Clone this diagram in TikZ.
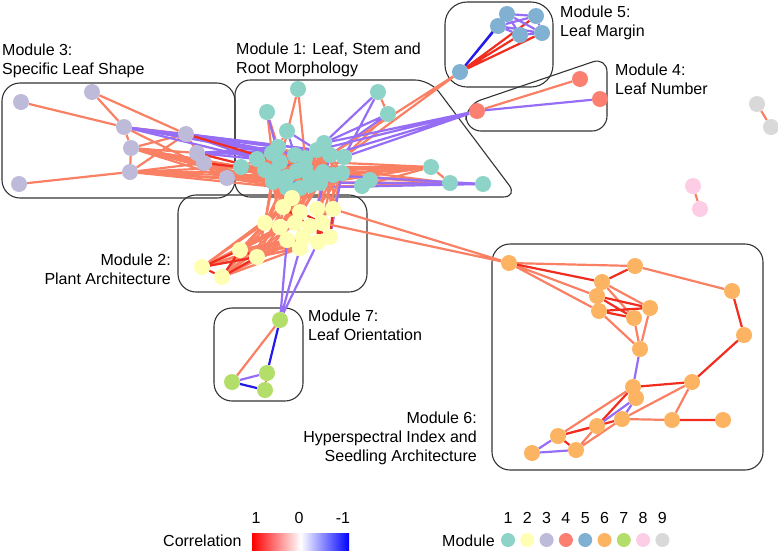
\documentclass[tikz,border=0pt]{standalone}
\usepackage{fontspec}
\setmainfont{Liberation Sans}
\usetikzlibrary{backgrounds}
\definecolor{modA}{HTML}{8DD3C7}
\definecolor{modB}{HTML}{FFFFB3}
\definecolor{modC}{HTML}{BEBADA}
\definecolor{modD}{HTML}{FB8072}
\definecolor{modE}{HTML}{80B1D3}
\definecolor{modF}{HTML}{FDB462}
\definecolor{modG}{HTML}{B3DE69}
\definecolor{modH}{HTML}{FCCDE5}
\definecolor{modI}{HTML}{D9D9D9}
\definecolor{poscol}{RGB}{250,128,100}
\definecolor{sposcol}{RGB}{240,45,30}
\definecolor{negcol}{RGB}{150,110,245}
\definecolor{snegcol}{RGB}{35,25,235}
\tikzset{
  mnode/.style={circle,minimum size=16pt,inner sep=0pt},
  poscor/.style={draw=poscol,line width=2.2pt},
  sposcor/.style={draw=sposcol,line width=2.2pt},
  negcor/.style={draw=negcol,line width=2.2pt},
  snegcor/.style={draw=snegcol,line width=2.2pt},
  modbox/.style={draw=black!80,line width=1.1pt,rounded corners=18pt},
  lbl/.style={inner sep=0pt,font=\fontsize{16}{19}\selectfont},
  every picture/.style={line cap=round,line join=round}
}

\begin{document}
\begin{tikzpicture}[x=1pt,y=-1pt]
    \useasboundingbox (0,0) rectangle (778,550);

    % module 1
    \foreach \n/\x/\y in {1/298/89,2/378/92,3/267/112,4/388/114,5/287/131,6/324/143,7/344/157,
        8/241/167,9/431/167,10/370/180,11/362/186,12/450/183,13/483/184,14/257/159,15/272/153,
        16/278/147,17/280/162,18/295/155,19/305/158,20/317/150,21/330/155,22/273/172,23/273/182,
        24/287/177,25/297/171,26/305/167,27/310/177,28/323/172,29/333/175,30/342/173,31/287/188,
        32/300/188,33/310/185,34/320/183,35/265/170}
      \node[mnode,fill=modA] (t\n) at (\x,\y) {};
    % module 2
    \foreach \n/\x/\y in {1/283/207,2/300/212,3/317/209,4/333/209,5/265/223,6/280/227,7/295/223,
        8/322/223,9/303/237,10/287/240,11/330/237,12/318/242,13/300/248,14/240/250,15/257/257,
        16/202/267,17/222/277,18/292/198,19/310/226}
      \node[mnode,fill=modB] (y\n) at (\x,\y) {};
    % module 3
    \foreach \n/\x/\y in {1/21/102,2/92/92,3/124/127,4/186/134,5/131/148,6/197/153,7/204/163,
        8/130/172,9/19/184,10/227/178}
      \node[mnode,fill=modC] (s\n) at (\x,\y) {};
    % module 4
    \foreach \n/\x/\y in {1/580/79,2/600/99,3/477/111}
      \node[mnode,fill=modD] (r\n) at (\x,\y) {};
    % module 5
    \foreach \n/\x/\y in {1/507/14,2/536/16,3/498/26,4/520/35,5/542/33,6/460/72}
      \node[mnode,fill=modE] (b\n) at (\x,\y) {};
    % module 6
    \foreach \n/\x/\y in {1/509/263,2/635/266,3/602/282,4/732/291,5/597/296,6/650/308,7/599/311,
        8/634/318,9/744/335,10/640/349,11/692/382,12/633/387,13/636/398,14/622/419,15/672/420,
        16/723/420,17/597/426,18/558/436,19/576/450,20/532/453}
      \node[mnode,fill=modF] (o\n) at (\x,\y) {};
    % module 7
    \foreach \n/\x/\y in {1/280/320,2/267/373,3/232/382,4/265/390}
      \node[mnode,fill=modG] (g\n) at (\x,\y) {};
    % modules 8 and 9
    \node[mnode,fill=modH] (p1) at (693,186) {};
    \node[mnode,fill=modH] (p2) at (700,209) {};
    \node[mnode,fill=modI] (e1) at (757,104) {};
    \node[mnode,fill=modI] (e2) at (771,127) {};

    \begin{scope}[on background layer]
      \draw[modbox] (2,83) rectangle (235,198);
      \draw[modbox,rounded corners=15pt] (235,80) -- (430,80) -- (518,197) -- (235,197) -- cycle;
      \draw[modbox] (178,195) rectangle (367,292);
      \draw[modbox,rounded corners=15pt] (466,131) -- (466,105) -- (607,57) -- (607,131) -- cycle;
      \draw[modbox,rounded corners=22pt] (445,2) rectangle (553,87);
      \draw[modbox] (492,244) rectangle (763,470);
      \draw[modbox] (214,308) rectangle (303,401);

      % module 3 edges
      \draw[poscor] (s1)--(s3) (s2)--(s3) (s2)--(s4) (s3)--(s4) (s3)--(s5) (s5)--(s8) (s5)--(s4)
            (s5)--(s6) (s5)--(s7) (s5)--(s10) (s8)--(s4) (s8)--(s10) (s8)--(s7) (s9)--(s8)
            (s3)--(s10) (s4)--(s7);
      \foreach \a in {s3,s4,s6} \foreach \b in {t14,t15,t16,t18,t20} \draw[negcor] (\a)--(\b);
      \foreach \a in {s5,s7,s8,s10} \foreach \b in {t8,t22,t23,t24,t31} \draw[poscor] (\a)--(\b);
      \draw[sposcor] (s4)--(t17) (s6)--(t22) (s7)--(t35);

      % module 1 edges
      \foreach \a in {14,...,24} \foreach \b in {25,...,35} \draw[poscor] (t\a)--(t\b);
      \foreach \a in {15,16,18,20} \foreach \b in {22,26,31} \draw[negcor] (t\a)--(t\b);
      \draw[sposcor] (t17)--(t25) (t24)--(t27) (t19)--(t26) (t18)--(t28);
      \draw[poscor] (t1)--(t17) (t1)--(t19) (t3)--(t15) (t3)--(t16) (t5)--(t16) (t6)--(t20)
            (t6)--(t21) (t2)--(t4) (t4)--(t7) (t7)--(t21) (t7)--(t19) (t9)--(t12) (t9)--(t30)
            (t9)--(t29) (t9)--(t11) (t10)--(t11);
      \draw[negcor] (t3)--(t17) (t5)--(t18) (t5)--(t20) (t2)--(t6) (t2)--(t7) (t4)--(t21)
            (t4)--(t6) (t12)--(t13);
      \foreach \a in {t8,t14,t22,t23,t31,t35} \draw[poscor] (\a)--(t12) (\a)--(t9);
      \foreach \a in {t22,t23,t31} \draw[negcor] (\a)--(t13);
      \foreach \b in {t15,t17,t22,t23,t24} \draw[poscor] (t8)--(\b);

      % module 1 to module 2
      \foreach \a in {t22,t23,t24,t27,t31,t32,t33,t34} \foreach \b in {y1,y2,y5,y6,y7,y18}
        \draw[poscor] (\a)--(\b);
      \foreach \a in {t28,t29,t30} \foreach \b in {y3,y4,y8} \draw[poscor] (\a)--(\b);
      \draw[negcor] (y11)--(t30) (y3)--(t21);

      % module 2 edges
      \foreach \a in {y14,y15,y16,y17} \foreach \b in {y1,y5,y6,y7,y9,y10,y13}
        \draw[poscor] (\a)--(\b);
      \draw[sposcor] (y14)--(y16) (y14)--(y17) (y15)--(y16) (y15)--(y17) (y16)--(y17) (y14)--(y15);
      \foreach \a/\b in {y2/y8,y7/y9,y6/y10,y3/y12,y19/y11,y8/y12,y9/y13,y4/y11,y5/y6,y1/y19}
        \draw[sposcor] (\a)--(\b);
      \draw[poscor] (y4)--(o1) (y8)--(o1);
      \draw[negcor] (y10)--(g1) (y13)--(g1) (y12)--(g1);

      % modules 4 and 5
      \draw[poscor] (r3)--(r1) (b6)--(t7) (b6)--(t21);
      \draw[negcor] (r3)--(r2) (r3)--(t6) (r3)--(t7) (r3)--(t20) (r3)--(t21);
      \draw[snegcor] (b6)--(b3) (b6)--(b1);
      \draw[sposcor] (b6)--(b4) (b6)--(b5) (b6)--(b2);
      \draw[negcor] (b1)--(b2) (b3)--(b4) (b3)--(b2) (b1)--(b5) (b4)--(b5) (b2)--(b5) (b1)--(b4)
            (b3)--(b5);

      % module 6 edges
      \draw[poscor] (o1)--(o2) (o1)--(o5) (o1)--(o7) (o2)--(o4) (o3)--(o6) (o3)--(o8) (o6)--(o10)
            (o8)--(o10) (o7)--(o10) (o11)--(o14) (o11)--(o15) (o14)--(o15) (o17)--(o19)
            (o14)--(o19) (o12)--(o18);
      \draw[sposcor] (o1)--(o3) (o2)--(o3) (o4)--(o9) (o9)--(o11) (o11)--(o12) (o5)--(o6)
            (o7)--(o6) (o5)--(o8) (o7)--(o8) (o15)--(o16) (o14)--(o18) (o17)--(o18)
            (o18)--(o19) (o12)--(o17);
      \draw[negcor] (o10)--(o12) (o13)--(o17) (o13)--(o14) (o20)--(o18) (o20)--(o19);

      % module 7 edges
      \draw[poscor] (g1)--(g3) (g2)--(g4);
      \draw[negcor] (g3)--(g2);
      \draw[snegcor] (g1)--(g2) (g3)--(g4);

      % modules 8 and 9
      \draw[poscor] (p1)--(p2) (e1)--(e2);
    \end{scope}

    \node[lbl,align=left,anchor=north west] (lab3) at (2,44) {Module 3:\\Specific Leaf Shape};
    \node[lbl,align=left,anchor=north west] (lab1) at (236,43) {Module 1: Leaf, Stem and\\Root Morphology};
    \node[lbl,align=left,anchor=north west] (lab5) at (560,6) {Module 5:\\Leaf Margin};
    \node[lbl,align=left,anchor=north west] (lab4) at (615,64) {Module 4:\\Leaf Number};
    \node[lbl,align=left,anchor=north west] (lab7) at (308,310) {Module 7:\\Leaf Orientation};
    \node[lbl,align=right,anchor=north east] (lab2) at (171,254) {Module 2:\\Plant Architecture};
    \node[lbl,align=right,anchor=north east] (lab6) at (477,412) {Module 6:\\Hyperspectral Index and\\Seedling Architecture};

    % legend
    \node[lbl,anchor=base west] (corr) at (163,546) {Correlation};
    \node[left color=red,right color=blue,middle color=white,minimum width=97pt,
          minimum height=17pt,inner sep=0pt,anchor=north west] (cbar) at (252,533) {};
    \node[lbl,anchor=base] (cpos) at (256,523) {1};
    \node[lbl,anchor=base] (czero) at (299,523) {0};
    \node[lbl,anchor=base] (cneg) at (343,523) {-1};
    \node[lbl,anchor=base west] (modkey) at (442,546) {Module};
    \foreach \i/\c in {1/modA,2/modB,3/modC,4/modD,5/modE,6/modF,7/modG,8/modH,9/modI} {
      \node[mnode,fill=\c,minimum size=14pt] (k\i) at ({508+19.3*(\i-1)},540) {};
      \node[lbl,anchor=base] (n\i) at ({508+19.3*(\i-1)},523) {\i};
    }
\end{tikzpicture}
\end{document}
